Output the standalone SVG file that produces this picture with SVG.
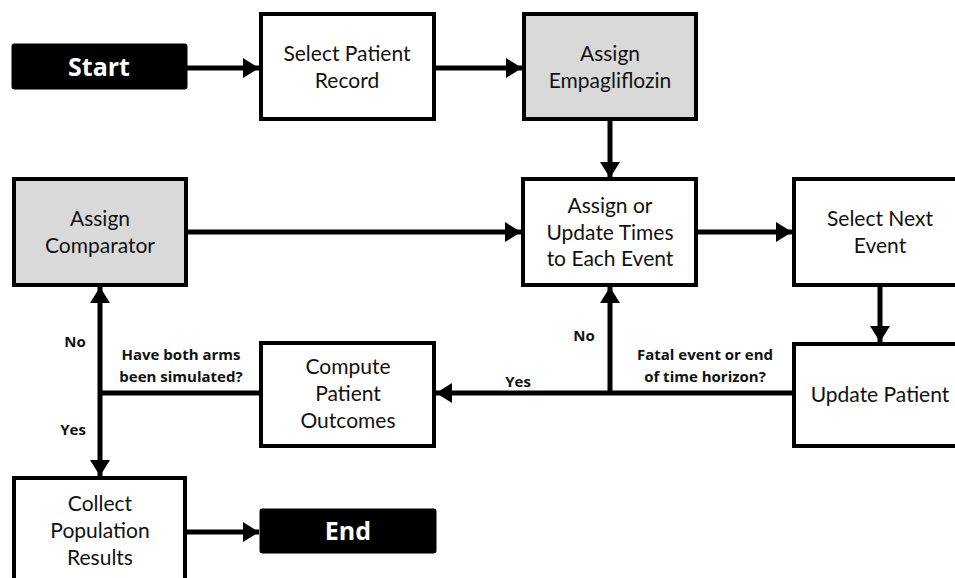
<svg xmlns="http://www.w3.org/2000/svg" width="955" height="578" viewBox="0 0 955 578">
<defs>
<marker id="ah" markerUnits="userSpaceOnUse" markerWidth="18" markerHeight="20" refX="16" refY="10" orient="auto">
<path d="M0,0 L16,10 L0,20 Z" fill="#000"/>
</marker>
<style>
.box{fill:#fff;stroke:#000;stroke-width:4}
.grey{fill:#d9d9d9;stroke:#000;stroke-width:4}
.term{fill:#000;stroke:#000;stroke-width:1}
.t{font-family:Lato,"Liberation Sans",sans-serif;font-size:21px;fill:#111;text-anchor:middle}
.tw{font-family:"Open Sans","Liberation Sans",sans-serif;font-size:25px;font-weight:bold;fill:#fff;text-anchor:middle}
.lb{font-family:"Open Sans","Liberation Sans",sans-serif;font-size:15px;font-weight:bold;fill:#111;text-anchor:middle}
.c{fill:none;stroke:#000;stroke-width:5}
</style>
</defs>
<rect width="955" height="578" fill="#fff"/>
<g id="connectors">
<line class="c" x1="187" y1="68" x2="259" y2="68" marker-end="url(#ah)"/>
<line class="c" x1="435" y1="68" x2="522" y2="68" marker-end="url(#ah)"/>
<line class="c" x1="610" y1="120" x2="610" y2="178" marker-end="url(#ah)"/>
<line class="c" x1="187" y1="232" x2="521" y2="232" marker-end="url(#ah)"/>
<line class="c" x1="697" y1="232" x2="792" y2="232" marker-end="url(#ah)"/>
<line class="c" x1="880" y1="286" x2="880" y2="342" marker-end="url(#ah)"/>
<line class="c" x1="793" y1="393" x2="436" y2="393" marker-end="url(#ah)"/>
<line class="c" x1="610" y1="393" x2="610" y2="287" marker-end="url(#ah)"/>
<line class="c" x1="260" y1="393" x2="100" y2="393"/>
<line class="c" x1="100" y1="393" x2="100" y2="287" marker-end="url(#ah)"/>
<line class="c" x1="100" y1="393" x2="100" y2="476" marker-end="url(#ah)"/>
<line class="c" x1="186" y1="532" x2="259" y2="532" marker-end="url(#ah)"/>
<text class="lb" x="75" y="347">No</text>
<text class="lb" x="73" y="435">Yes</text>
<text class="lb" x="181" y="360">Have both arms</text>
<text class="lb" x="181" y="382">been simulated?</text>
<text class="lb" x="584" y="341">No</text>
<text class="lb" x="518" y="387">Yes</text>
<text class="lb" x="705" y="360">Fatal event or end</text>
<text class="lb" x="705" y="382">of time horizon?</text>
</g>
<g id="start">
<rect class="term" x="12" y="44" width="175" height="45" rx="2"/>
<text class="tw" x="99" y="76">Start</text>
</g>
<g id="select-patient">
<rect class="box" x="261" y="14" width="173" height="105"/>
<text class="t" x="347" y="61">Select Patient</text>
<text class="t" x="347" y="88">Record</text>
</g>
<g id="assign-empagliflozin">
<rect class="grey" x="524" y="14" width="172" height="105"/>
<text class="t" x="610" y="61">Assign</text>
<text class="t" x="610" y="88">Empagliflozin</text>
</g>
<g id="assign-comparator">
<rect class="grey" x="14" y="179" width="172" height="106"/>
<text class="t" x="100" y="226">Assign</text>
<text class="t" x="100" y="253">Comparator</text>
</g>
<g id="assign-update">
<rect class="box" x="523" y="179" width="173" height="106"/>
<text class="t" x="610" y="213">Assign or</text>
<text class="t" x="610" y="240">Update Times</text>
<text class="t" x="610" y="266">to Each Event</text>
</g>
<g id="select-next">
<rect class="box" x="794" y="179" width="175" height="106"/>
<text class="t" x="880" y="226">Select Next</text>
<text class="t" x="880" y="253">Event</text>
</g>
<g id="update-patient">
<rect class="box" x="794" y="344" width="175" height="102"/>
<text class="t" x="880" y="402">Update Patient</text>
</g>
<g id="compute-outcomes">
<rect class="box" x="261" y="343" width="173" height="103"/>
<text class="t" x="348" y="374">Compute</text>
<text class="t" x="348" y="401">Patient</text>
<text class="t" x="348" y="428">Outcomes</text>
</g>
<g id="collect">
<rect class="box" x="14" y="478" width="171" height="110"/>
<text class="t" x="100" y="511">Collect</text>
<text class="t" x="100" y="538">Population</text>
<text class="t" x="100" y="565">Results</text>
</g>
<g id="end">
<rect class="term" x="260" y="509" width="176" height="44" rx="2"/>
<text class="tw" x="348" y="540">End</text>
</g>
</svg>
